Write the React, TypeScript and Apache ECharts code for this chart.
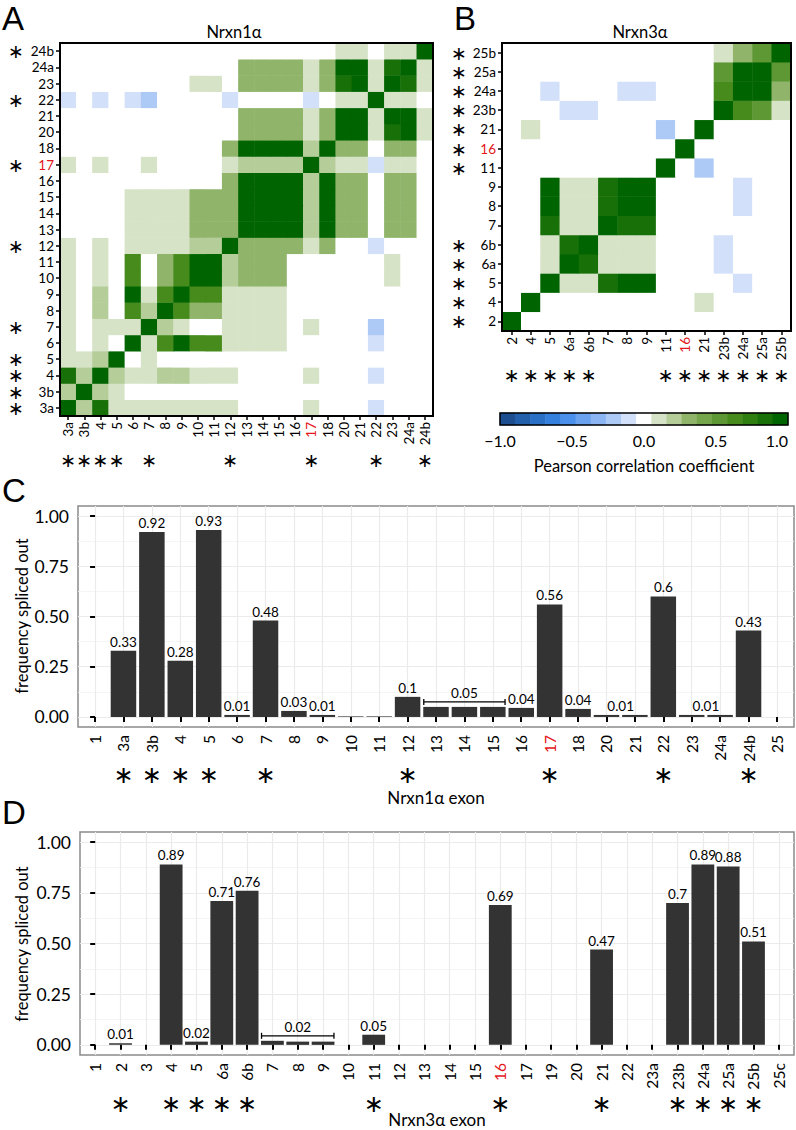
import React, { useEffect, useRef } from "react";
import * as echarts from "echarts";

// ---------- Panel A: Nrxn1α correlation ----------
const catsA = ["3a","3b","4","5","6","7","8","9","10","11","12","13","14","15","16","17","18","20","21","22","23","24a","24b"];
const starA = ["3a","3b","4","5","7","12","17","22","24b"];
const redA = ["17"];
// rows follow catsA (bottom to top), columns follow catsA (left to right)
const corrA: number[][] = [
  [1, .2, .84, .1, .1, .1, .1, .1, .1, .1, .1, 0, 0, 0, 0, .1, 0, 0, 0, -.1, 0, 0, 0],
  [.2, 1, .2, .1, 0, 0, 0, 0, 0, 0, 0, 0, 0, 0, 0, 0, 0, 0, 0, 0, 0, 0, 0],
  [.84, .2, 1, .2, .1, .1, .2, .2, .1, .1, .1, 0, 0, 0, 0, .1, 0, 0, 0, -.1, 0, 0, 0],
  [.1, .1, .2, 1, 0, .1, 0, 0, 0, 0, 0, 0, 0, 0, 0, 0, 0, 0, 0, 0, 0, 0, 0],
  [.1, 0, .1, 0, 1, .1, .63, .95, .63, .63, .1, .1, .1, .1, 0, 0, 0, 0, 0, -.1, 0, 0, 0],
  [.1, 0, .1, .1, .1, 1, .2, .1, 0, 0, .1, .1, .1, .1, 0, .1, 0, 0, 0, -.2, 0, 0, 0],
  [.1, 0, .2, 0, .63, .2, 1, .63, .32, .32, .1, .1, .1, .1, 0, 0, 0, 0, 0, 0, 0, 0, 0],
  [.1, 0, .2, 0, .95, .1, .63, 1, .63, .63, .1, .1, .1, .1, 0, 0, 0, 0, 0, 0, 0, 0, 0],
  [.1, 0, .1, 0, .63, 0, .32, .63, 1, .95, .2, .32, .32, .32, 0, 0, 0, 0, 0, 0, .1, 0, 0],
  [.1, 0, .1, 0, .63, 0, .32, .63, .95, 1, .2, .32, .32, .32, 0, 0, 0, 0, 0, 0, .1, 0, 0],
  [.1, 0, .1, 0, .1, .1, .1, .1, .2, .2, 1, .32, .32, .32, .32, .1, .32, 0, 0, -.1, 0, 0, 0],
  [0, 0, 0, 0, .1, .1, .1, .1, .32, .32, .32, 1, .95, .95, .95, .2, .95, .32, .32, 0, .32, .32, 0],
  [0, 0, 0, 0, .1, .1, .1, .1, .32, .32, .32, .95, 1, .95, .95, .2, .95, .32, .32, 0, .32, .32, 0],
  [0, 0, 0, 0, .1, .1, .1, .1, .32, .32, .32, .95, .95, 1, .95, .2, .95, .32, .32, 0, .32, .32, 0],
  [0, 0, 0, 0, 0, 0, 0, 0, 0, 0, .32, .95, .95, .95, 1, .2, .95, .32, .32, 0, .32, .32, 0],
  [.1, 0, .1, 0, 0, .1, 0, 0, 0, 0, .1, .2, .2, .2, .2, 1, .2, .1, .1, -.1, .1, .1, 0],
  [0, 0, 0, 0, 0, 0, 0, 0, 0, 0, .32, .95, .95, .95, .95, .2, 1, .32, .32, 0, .32, .32, 0],
  [0, 0, 0, 0, 0, 0, 0, 0, 0, 0, 0, .32, .32, .32, .32, .1, .32, 1, .95, .1, .84, .95, .1],
  [0, 0, 0, 0, 0, 0, 0, 0, 0, 0, 0, .32, .32, .32, .32, .1, .32, .95, 1, .1, .95, .95, .1],
  [-.1, 0, -.1, 0, -.1, -.2, 0, 0, 0, 0, -.1, 0, 0, 0, 0, -.1, 0, .1, .1, 1, .1, .1, 0],
  [0, 0, 0, 0, 0, 0, 0, 0, .1, .1, 0, .32, .32, .32, .32, .1, .32, .84, .95, .1, 1, .84, .1],
  [0, 0, 0, 0, 0, 0, 0, 0, 0, 0, 0, .32, .32, .32, .32, .1, .32, .95, .95, .1, .84, 1, .1],
  [0, 0, 0, 0, 0, 0, 0, 0, 0, 0, 0, 0, 0, 0, 0, 0, 0, .1, .1, 0, .1, .1, 1],
];

// ---------- Panel B: Nrxn3α correlation ----------
const catsB = ["2","4","5","6a","6b","7","8","9","11","16","21","23b","24a","25a","25b"];
const starB = ["2","4","5","6a","6b","11","16","21","23b","24a","25a","25b"];
const redB = ["16"];
const corrB: number[][] = [
  [1, 0, 0, 0, 0, 0, 0, 0, 0, 0, 0, 0, 0, 0, 0],
  [0, 1, 0, 0, 0, 0, 0, 0, 0, 0, .1, 0, 0, 0, 0],
  [0, 0, 1, .1, .1, .84, .95, .95, 0, 0, 0, 0, -.1, 0, 0],
  [0, 0, .1, 1, .84, .1, .1, .1, 0, 0, 0, -.1, 0, 0, 0],
  [0, 0, .1, .84, 1, .1, .1, .1, 0, 0, 0, -.1, 0, 0, 0],
  [0, 0, .84, .1, .1, 1, .84, .84, 0, 0, 0, 0, 0, 0, 0],
  [0, 0, .95, .1, .1, .84, 1, .95, 0, 0, 0, 0, -.1, 0, 0],
  [0, 0, .95, .1, .1, .84, .95, 1, 0, 0, 0, 0, -.1, 0, 0],
  [0, 0, 0, 0, 0, 0, 0, 0, 1, 0, -.2, 0, 0, 0, 0],
  [0, 0, 0, 0, 0, 0, 0, 0, 0, 1, 0, 0, 0, 0, 0],
  [0, .1, 0, 0, 0, 0, 0, 0, -.2, 0, 1, 0, 0, 0, 0],
  [0, 0, 0, -.1, -.1, 0, 0, 0, 0, 0, 0, 1, .63, .52, .1],
  [0, 0, -.1, 0, 0, 0, -.1, -.1, 0, 0, 0, .63, 1, .95, .32],
  [0, 0, 0, 0, 0, 0, 0, 0, 0, 0, 0, .52, .95, 1, .52],
  [0, 0, 0, 0, 0, 0, 0, 0, 0, 0, 0, .1, .32, .52, 1],
];

// ---------- colour scale (19 bins from -1 to 1) ----------
const colorBins = [
  "#1d4e8f","#2360ab","#2a70c6","#3480de","#4a90ec","#6aa2f0","#8cb6f3","#adc9f6","#d3e0fa",
  "#ffffff",
  "#d6e3c7","#b4cd99","#8fb46a","#75a64c","#5e9835","#468b1c","#2f7e10","#187008","#006400",
];
const colorTicks = [-1, -0.5, 0, 0.5, 1];

// ---------- Panel C: Nrxn1α splicing ----------
const catsC = ["1","3a","3b","4","5","6","7","8","9","10","11","12","13","14","15","16","17","18","20","21","22","23","24a","24b","25"];
const valsC: (number | null)[] = [null, 0.33, 0.92, 0.28, 0.93, 0.01, 0.48, 0.03, 0.01, 0.003, 0.003, 0.1, 0.05, 0.05, 0.05, 0.045, 0.56, 0.04, 0.01, 0.01, 0.6, 0.01, 0.01, 0.43, null];
const labelsC = ["", "0.33", "0.92", "0.28", "0.93", "0.01", "0.48", "0.03", "0.01", "", "", "0.1", "", "", "", "0.04", "0.56", "0.04", "", "", "0.6", "", "", "0.43", ""];
const starC = ["3a","3b","4","5","7","12","17","22","24b"];
const redC = ["17"];
const groupFromC = ["13", "20", "23"];
const groupToC = ["15", "21", "24a"];
const groupTextC = ["0.05", "0.01", "0.01"];
const groupBracketC = [true, false, false];

// ---------- Panel D: Nrxn3α splicing ----------
const catsD = ["1","2","3","4","5","6a","6b","7","8","9","10","11","12","13","14","15","16","17","19","20","21","22","23a","23b","24a","25a","25b","25c"];
const valsD: (number | null)[] = [null, 0.008, null, 0.89, 0.016, 0.71, 0.76, 0.02, 0.016, 0.016, null, 0.05, null, null, null, null, 0.69, null, null, null, 0.47, null, null, 0.7, 0.89, 0.88, 0.51, null];
const labelsD = ["", "0.01", "", "0.89", "0.02", "0.71", "0.76", "", "", "", "", "0.05", "", "", "", "", "0.69", "", "", "", "0.47", "", "", "0.7", "0.89", "0.88", "0.51", ""];
const starD = ["2","4","5","6a","6b","11","16","21","23b","24a","25a","25b"];
const redD = ["16"];
const groupFromD = ["7"];
const groupToD = ["9"];
const groupTextD = ["0.02"];
const groupBracketD = [true];

const yTicks = [0, 0.25, 0.5, 0.75, 1];
const yMinorTicks = [0.125, 0.375, 0.625, 0.875];

// ---------- layout ----------
const FF = "Lato, 'Open Sans', sans-serif";
const RED = "#e3161b";
const LA = { left: 60, top: 43, w: 373, h: 373 };
const LB = { left: 502, top: 43, w: 289, h: 288 };
const LCB = { left: 500, top: 413, w: 288, h: 12 };
const LC = { left: 78, top: 506, w: 716, h: 221 };
const LD = { left: 80, top: 832, w: 714, h: 223 };

const redFmt = (reds: string[]) => (v: string) => (reds.includes(v) ? `{r|${v}}` : v);
const starLabel = { fontSize: 22, lineHeight: 12, color: "#000", fontFamily: "DejaVu Sans" };

function heatData(m: number[][]) {
  const out: number[][] = [];
  m.forEach((row, r) => row.forEach((v, c) => out.push([c, r, v])));
  return out;
}

function heatAxes(grid: number, cats: string[], reds: string[], stars: string[], starOffX: number, starOffY: number, starSize: number) {
  const rich = { r: { color: RED, fontSize: 13.5, fontFamily: FF } };
  const tick = { show: true, alignWithLabel: true, length: 4, lineStyle: { color: "#000", width: 1.5 } };
  const x = [
    {
      type: "category", gridIndex: grid, data: cats, position: "bottom",
      axisLine: { show: false }, axisTick: tick, splitLine: { show: false },
      axisLabel: { interval: 0, rotate: 90, fontSize: 13.5, color: "#000", margin: 6, fontFamily: FF, formatter: redFmt(reds), rich },
    },
    {
      type: "category", gridIndex: grid, data: cats, position: "bottom", offset: starOffX,
      axisLine: { show: false }, axisTick: { show: false }, splitLine: { show: false },
      axisLabel: { interval: 0, margin: 4, ...starLabel, fontSize: starSize, formatter: (v: string) => (stars.includes(v) ? "∗" : "") },
    },
  ];
  const y = [
    {
      type: "category", gridIndex: grid, data: cats, position: "left",
      axisLine: { show: false }, axisTick: tick, splitLine: { show: false },
      axisLabel: { interval: 0, fontSize: 13.5, color: "#000", margin: 6, fontFamily: FF, formatter: redFmt(reds), rich },
    },
    {
      type: "category", gridIndex: grid, data: cats, position: "left", offset: starOffY,
      axisLine: { show: false }, axisTick: { show: false }, splitLine: { show: false },
      axisLabel: { interval: 0, margin: 4, ...starLabel, fontSize: starSize, formatter: (v: string) => (stars.includes(v) ? "∗" : "") },
    },
  ];
  return { x, y };
}

function barAxes(grid: number, cats: string[], reds: string[], stars: string[], starOff: number) {
  const idx = cats.map((_, i) => i);
  const starIdx = stars.map((s) => cats.indexOf(s));
  const min = -0.6;
  const max = cats.length - 0.4;
  const x = [
    {
      type: "value", gridIndex: grid, min, max, position: "bottom",
      axisLine: { show: false },
      axisTick: { show: true, customValues: idx, length: 5, lineStyle: { color: "#000", width: 2 } },
      splitLine: { show: true, lineStyle: { color: "#ebebeb", width: 1.2 } },
      axisLabel: {
        customValues: idx, rotate: 90, fontSize: 15.5, margin: 8, color: "#000", fontFamily: FF,
        formatter: (v: number) => { const c = cats[Math.round(v)]; return reds.includes(c) ? `{r|${c}}` : c; },
        rich: { r: { color: RED, fontSize: 15.5, fontFamily: FF } },
      },
    },
    {
      type: "value", gridIndex: grid, min, max, position: "bottom", offset: starOff,
      axisLine: { show: false }, axisTick: { show: false }, splitLine: { show: false },
      axisLabel: { customValues: starIdx, margin: 4, ...starLabel, fontSize: 24, formatter: () => "∗" },
    },
  ];
  const y = [
    {
      type: "value", gridIndex: grid, min: -0.05, max: 1.05, position: "left",
      axisLine: { show: false },
      axisTick: { show: true, customValues: yTicks, length: 5, lineStyle: { color: "#000", width: 2 } },
      splitLine: { show: true, lineStyle: { color: "#ebebeb", width: 1.2 } },
      axisLabel: { customValues: yTicks, fontSize: 17.5, margin: 9, color: "#000", fontFamily: FF, formatter: (v: number) => v.toFixed(2) },
    },
    {
      type: "value", gridIndex: grid, min: -0.05, max: 1.05, position: "left",
      axisLine: { show: false },
      axisTick: { show: false, customValues: yMinorTicks },
      axisLabel: { show: false, customValues: yMinorTicks },
      splitLine: { show: true, lineStyle: { color: "#f2f2f2", width: 0.8 } },
    },
  ];
  return { x, y };
}

function groupRender(texts: string[], brackets: boolean[]) {
  return (params: any, api: any) => {
    const i = params.dataIndex;
    const x0 = api.value(0);
    const x1 = api.value(1);
    const y = api.value(2);
    const mid = api.coord([(x0 + x1) / 2, y]);
    const children: any[] = [];
    const ts = { fontSize: 13.5, fontFamily: FF, fill: "#000", align: "center", verticalAlign: "bottom" };
    if (brackets[i]) {
      const a = api.coord([x0 - 0.43, y]);
      const b = api.coord([x1 + 0.43, y]);
      const yy = a[1] - 5;
      const ls = { stroke: "#000", lineWidth: 1.3 };
      children.push({ type: "line", shape: { x1: a[0], y1: yy, x2: b[0], y2: yy }, style: ls });
      children.push({ type: "line", shape: { x1: a[0], y1: yy - 3, x2: a[0], y2: yy + 3 }, style: ls });
      children.push({ type: "line", shape: { x1: b[0], y1: yy - 3, x2: b[0], y2: yy + 3 }, style: ls });
      children.push({ type: "text", style: { ...ts, text: texts[i], x: mid[0], y: yy - 2 } });
    } else {
      children.push({ type: "text", style: { ...ts, text: texts[i], x: mid[0], y: mid[1] - 2 } });
    }
    return { type: "group", children };
  };
}

function groupData(cats: string[], vals: (number | null)[], from: string[], to: string[]) {
  return from.map((f, i) => {
    const a = cats.indexOf(f);
    const b = cats.indexOf(to[i]);
    let m = 0;
    for (let k = a; k <= b; k++) m = Math.max(m, vals[k] ?? 0);
    return [a, b, m];
  });
}

function buildOption() {
  const hA = heatAxes(0, catsA, redA, starA, 34, 32, 19);
  const hB = heatAxes(1, catsB, redB, starB, 34, 31, 19);
  const bC = barAxes(3, catsC, redC, starC, 38);
  const bD = barAxes(4, catsD, redD, starD, 39);

  const edges = colorBins.map((_, k) => -1 + (2 * k) / colorBins.length);
  const pieces = colorBins.map((c, k) =>
    k === colorBins.length - 1
      ? { gte: edges[k], lte: 1, color: c }
      : { gte: edges[k], lt: edges[k + 1], color: c }
  );
  const barIdx = colorBins.map((_, k) => String(k));
  const barCells = colorBins.map((_, k) => [k, 0, -1 + (2 * k + 1) / colorBins.length]);

  const gridBase = { containLabel: false, outerBoundsMode: "none" };
  const txt = (text: string, x: number, y: number, fontSize: number, extra: any = {}) => ({
    type: "text", x, y, ...extra,
    style: { text, fontSize, fontFamily: FF, fill: "#000", align: "center", verticalAlign: "middle" },
  });
  const barLabel = (labels: string[]) => ({
    show: true, position: "top", distance: 2, fontSize: 13.5, color: "#000", fontFamily: FF,
    formatter: (p: any) => labels[p.dataIndex],
  });

  return {
    animation: false,
    textStyle: { fontFamily: FF, color: "#000" },
    grid: [
      { ...gridBase, left: LA.left, top: LA.top, width: LA.w, height: LA.h },
      { ...gridBase, left: LB.left, top: LB.top, width: LB.w, height: LB.h },
      { ...gridBase, left: LCB.left, top: LCB.top, width: LCB.w, height: LCB.h },
      { ...gridBase, left: LC.left, top: LC.top, width: LC.w, height: LC.h, show: true, borderColor: "#8a8a8a", borderWidth: 1.5, backgroundColor: "transparent" },
      { ...gridBase, left: LD.left, top: LD.top, width: LD.w, height: LD.h, show: true, borderColor: "#8a8a8a", borderWidth: 1.5, backgroundColor: "transparent" },
    ],
    xAxis: [
      ...hA.x,
      ...hB.x,
      { type: "category", gridIndex: 2, data: barIdx, show: false },
      {
        type: "value", gridIndex: 2, min: colorTicks[0], max: colorTicks[colorTicks.length - 1], interval: 0.5, position: "bottom",
        axisLine: { show: false }, axisTick: { show: false }, splitLine: { show: false },
        axisLabel: { fontSize: 16, margin: 7, color: "#000", fontFamily: FF, alignMaxLabel: "right", formatter: (v: number) => v.toFixed(1).replace("-", "−") },
      },
      ...bC.x,
      ...bD.x,
    ],
    yAxis: [
      ...hA.y,
      ...hB.y,
      { type: "category", gridIndex: 2, data: ["0"], show: false },
      ...bC.y,
      ...bD.y,
    ],
    visualMap: {
      type: "piecewise", show: false, dimension: 2, seriesIndex: [0, 1, 2], pieces,
    },
    graphic: [
      { type: "text", left: 2, top: 2, style: { text: "A", fontSize: 33, fontFamily: "Liberation Sans", fill: "#000" } },
      { type: "text", left: 454, top: 2, style: { text: "B", fontSize: 33, fontFamily: "Liberation Sans", fill: "#000" } },
      { type: "text", left: 2, top: 474, style: { text: "C", fontSize: 33, fontFamily: "Liberation Sans", fill: "#000" } },
      { type: "text", left: 2, top: 796, style: { text: "D", fontSize: 33, fontFamily: "Liberation Sans", fill: "#000" } },
      txt("Nrxn1α", 234, 32, 16.5),
      txt("Nrxn3α", 640, 32, 16.5),
      txt("Pearson correlation coefficient", 644, 466, 16.5),
      txt("Nrxn1α exon", 436, 797, 17),
      txt("Nrxn3α exon", 437, 1119, 17),
      txt("frequency spliced out", 22, 616, 16.5, { rotation: Math.PI / 2 }),
      txt("frequency spliced out", 22, 944, 16.5, { rotation: Math.PI / 2 }),
      { type: "rect", z: 100, shape: { x: LA.left, y: LA.top, width: LA.w, height: LA.h }, style: { fill: "none", stroke: "#000", lineWidth: 2 } },
      { type: "rect", z: 100, shape: { x: LB.left, y: LB.top, width: LB.w, height: LB.h }, style: { fill: "none", stroke: "#000", lineWidth: 2 } },
      { type: "rect", z: 100, shape: { x: LCB.left, y: LCB.top, width: LCB.w, height: LCB.h }, style: { fill: "none", stroke: "#000", lineWidth: 1.5 } },
    ],
    series: [
      { type: "heatmap", xAxisIndex: 0, yAxisIndex: 0, data: heatData(corrA), silent: true, itemStyle: { borderWidth: 0 } },
      { type: "heatmap", xAxisIndex: 2, yAxisIndex: 2, data: heatData(corrB), silent: true, itemStyle: { borderWidth: 0 } },
      { type: "heatmap", xAxisIndex: 4, yAxisIndex: 4, data: barCells, silent: true, itemStyle: { borderWidth: 0 } },
      {
        type: "bar", xAxisIndex: 6, yAxisIndex: 5, barWidth: 25.5, silent: true,
        data: valsC.map((v, i) => [i, v === null ? "-" : v]),
        itemStyle: { color: "#333333" },
        label: barLabel(labelsC),
      },
      {
        type: "custom", xAxisIndex: 6, yAxisIndex: 5, silent: true, z: 3,
        data: groupData(catsC, valsC, groupFromC, groupToC), encode: { x: [0, 1], y: 2 },
        renderItem: groupRender(groupTextC, groupBracketC),
      },
      {
        type: "bar", xAxisIndex: 8, yAxisIndex: 7, barWidth: 22.8, silent: true,
        data: valsD.map((v, i) => [i, v === null ? "-" : v]),
        itemStyle: { color: "#333333" },
        label: barLabel(labelsD),
      },
      {
        type: "custom", xAxisIndex: 8, yAxisIndex: 7, silent: true, z: 3,
        data: groupData(catsD, valsD, groupFromD, groupToD), encode: { x: [0, 1], y: 2 },
        renderItem: groupRender(groupTextD, groupBracketD),
      },
    ],
  };
}

export default function App() {
  const ref = useRef<HTMLDivElement>(null);
  useEffect(() => {
    if (!ref.current) return;
    const chart = echarts.init(ref.current, undefined, { renderer: "svg" });
    chart.setOption(buildOption() as any);
    return () => chart.dispose();
  }, []);
  return (
    <div
      ref={ref}
      style={{ position: "absolute", left: 0, top: 0, width: 796, height: 1130, background: "#fff" }}
    />
  );
}
